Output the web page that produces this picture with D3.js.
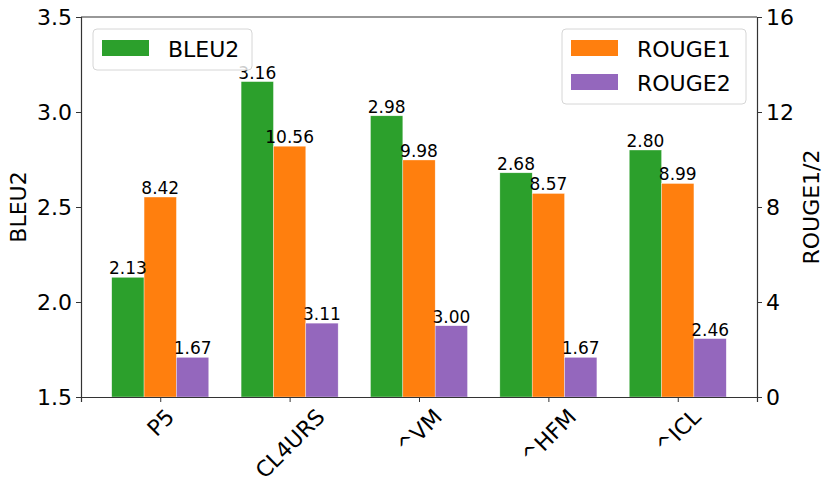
<!DOCTYPE html>
<html>
<head>
<meta charset="utf-8">
<script src="https://cdn.jsdelivr.net/npm/d3@7"></script>
<style>
  body { margin: 0; background: #fff; }
  svg text { font-family: "DejaVu Sans", sans-serif; fill: #000; }
</style>
</head>
<body>
<div id="vis"></div>
<script>
// chart values
const categories = ['P5', 'CL4URS', '^VM', '^HFM', '^ICL'];
const bleu2 = [2.13, 3.16, 2.98, 2.68, 2.80];
const rouge1 = [8.42, 10.56, 9.98, 8.57, 8.99];
const rouge2 = [1.67, 3.11, 3.00, 1.67, 2.46];
const leftTicks = [1.5, 2.0, 2.5, 3.0, 3.5];
const rightTicks = [0, 4, 8, 12, 16];

const width = 831;
const height = 495;
const margin = { top: 17, right: 74, bottom: 98, left: 81 };

const colors = { bleu2: '#2ca02c', rouge1: '#ff7f0e', rouge2: '#9467bd' };
const barW = 0.25;

const svg = d3.select('#vis')
  .append('svg')
  .attr('width', width)
  .attr('height', height);

const x = d3.scaleLinear()
  .domain([-0.375 - 0.2375, categories.length - 1 + 0.375 + 0.2375])
  .range([margin.left, width - margin.right]);

const yLeft = d3.scaleLinear()
  .domain([1.5, 3.5])
  .range([height - margin.bottom, margin.top]);

const yRight = d3.scaleLinear()
  .domain([0, 16])
  .range([height - margin.bottom, margin.top]);

const series = [
  { key: 'bleu2', values: bleu2, offset: -barW, y: yLeft },
  { key: 'rouge1', values: rouge1, offset: 0, y: yRight },
  { key: 'rouge2', values: rouge2, offset: barW, y: yRight }
];

// bars
series.forEach(s => {
  svg.append('g')
    .selectAll('rect')
    .data(s.values)
    .join('rect')
    .attr('x', (d, i) => x(i + s.offset - barW / 2))
    .attr('width', x(barW) - x(0))
    .attr('y', d => s.y(d))
    .attr('height', d => s.y.range()[0] - s.y(d))
    .attr('fill', colors[s.key])
    .attr('stroke', '#fff')
    .attr('stroke-width', 0.5)
    .attr('stroke-opacity', 0.7);
});

// value labels
series.forEach(s => {
  svg.append('g')
    .selectAll('text')
    .data(s.values)
    .join('text')
    .attr('x', (d, i) => x(i + s.offset))
    .attr('y', d => s.y(d) - 3)
    .attr('text-anchor', 'middle')
    .style('font-size', '17px')
    .text(d => d.toFixed(2));
});

// axes
const axisColor = '#333';
const fontSize = '22px';

const leftAxis = svg.append('g')
  .attr('transform', `translate(${margin.left},0)`)
  .call(d3.axisLeft(yLeft).tickValues(leftTicks).tickFormat(d3.format('.1f')).tickSize(5).tickPadding(4));

const rightAxis = svg.append('g')
  .attr('transform', `translate(${width - margin.right},0)`)
  .call(d3.axisRight(yRight).tickValues(rightTicks).tickSize(5).tickPadding(4));

const bottomAxis = svg.append('g')
  .attr('transform', `translate(0,${height - margin.bottom})`)
  .call(d3.axisBottom(x).tickValues(d3.range(categories.length)).tickFormat(i => categories[i]).tickSize(5));

[leftAxis, rightAxis, bottomAxis].forEach(g => {
  g.select('.domain').attr('stroke', axisColor).attr('stroke-width', 1.2);
  g.selectAll('.tick line').attr('stroke', axisColor).attr('stroke-width', 1);
  g.selectAll('.tick text').style('font-size', fontSize).attr('font-family', null);
});

// top spine
svg.append('line')
  .attr('x1', margin.left).attr('x2', width - margin.right)
  .attr('y1', margin.top).attr('y2', margin.top)
  .attr('stroke', axisColor).attr('stroke-width', 1.2);

// rotated category labels, bbox centred under each tick
bottomAxis.selectAll('.tick text').each(function () {
  const t = d3.select(this);
  const w = this.getComputedTextLength();
  const h = 17;
  const off = (w + h) / (2 * Math.SQRT2);
  t.attr('y', null).attr('dy', null)
    .attr('text-anchor', 'middle')
    .attr('dominant-baseline', 'central')
    .attr('transform', `translate(0,${10 + off}) rotate(-45)`);
});

// axis titles
svg.append('text')
  .attr('transform', `translate(18,${(margin.top + height - margin.bottom) / 2}) rotate(-90)`)
  .attr('text-anchor', 'middle')
  .attr('dominant-baseline', 'central')
  .style('font-size', fontSize)
  .text('BLEU2');

svg.append('text')
  .attr('transform', `translate(811,${(margin.top + height - margin.bottom) / 2}) rotate(-90)`)
  .attr('text-anchor', 'middle')
  .attr('dominant-baseline', 'central')
  .style('font-size', fontSize)
  .text('ROUGE1/2');

// legends
function legend(items, x0, y0, w) {
  const rowH = 34;
  const g = svg.append('g').attr('transform', `translate(${x0},${y0})`);
  g.append('rect')
    .attr('width', w)
    .attr('height', items.length * rowH + 7)
    .attr('rx', 4)
    .attr('fill', '#fff')
    .attr('fill-opacity', 0.8)
    .attr('stroke', '#d6d6d6');
  items.forEach((d, i) => {
    g.append('rect')
      .attr('x', 9).attr('y', 11 + i * rowH)
      .attr('width', 47).attr('height', 16)
      .attr('fill', colors[d.key]);
    g.append('text')
      .attr('x', 75).attr('y', 28 + i * rowH)
      .style('font-size', fontSize)
      .text(d.label);
  });
}

legend([{ key: 'bleu2', label: 'BLEU2' }], 93, 29, 159);
legend([{ key: 'rouge1', label: 'ROUGE1' }, { key: 'rouge2', label: 'ROUGE2' }], 562, 29, 184);
</script>
</body>
</html>
